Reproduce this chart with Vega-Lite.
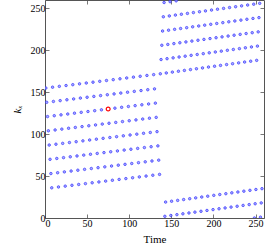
{
  "$schema": "https://vega.github.io/schema/vega-lite/v6.json",
  "width": 219,
  "height": 218,
  "autosize": {"type": "none"},
  "padding": {"left": 45, "top": 0, "right": 3, "bottom": 31},
  "background": "white",
  "config": {
    "view": {"stroke": "#555", "strokeWidth": 1},
    "axis": {
      "labelFont": "Liberation Serif", "labelFontSize": 10, "labelColor": "#000",
      "titleFont": "Liberation Serif", "titleFontSize": 11, "titleColor": "#000", "titleFontWeight": "normal",
      "grid": false, "domain": false, "tickColor": "#555", "tickSize": -4, "tickWidth": 0.8
    }
  },
  "datasets": {
    "blue": [
      {"t":1,"k":155},{"t":9,"k":156},{"t":17,"k":157},{"t":25,"k":158},{"t":33,"k":159},{"t":41,"k":160},{"t":49,"k":161},{"t":57,"k":162},{"t":65,"k":163},{"t":73,"k":164},{"t":81,"k":165},{"t":89,"k":166},{"t":97,"k":167},{"t":105,"k":168},{"t":113,"k":169},{"t":121,"k":170},{"t":129,"k":171},
      {"t":2,"k":138},{"t":10,"k":139},{"t":18,"k":140},{"t":26,"k":141},{"t":34,"k":142},{"t":42,"k":143},{"t":50,"k":144},{"t":58,"k":145},{"t":66,"k":146},{"t":74,"k":147},{"t":82,"k":148},{"t":90,"k":149},{"t":98,"k":150},{"t":106,"k":151},{"t":114,"k":152},{"t":122,"k":153},{"t":130,"k":154},
      {"t":3,"k":121},{"t":11,"k":122},{"t":19,"k":123},{"t":27,"k":124},{"t":35,"k":125},{"t":43,"k":126},{"t":51,"k":127},{"t":59,"k":128},{"t":67,"k":129},{"t":75,"k":130},{"t":83,"k":131},{"t":91,"k":132},{"t":99,"k":133},{"t":107,"k":134},{"t":115,"k":135},{"t":123,"k":136},{"t":131,"k":137},
      {"t":4,"k":104},{"t":12,"k":105},{"t":20,"k":106},{"t":28,"k":107},{"t":36,"k":108},{"t":44,"k":109},{"t":52,"k":110},{"t":60,"k":111},{"t":68,"k":112},{"t":76,"k":113},{"t":84,"k":114},{"t":92,"k":115},{"t":100,"k":116},{"t":108,"k":117},{"t":116,"k":118},{"t":124,"k":119},{"t":132,"k":120},
      {"t":5,"k":87},{"t":13,"k":88},{"t":21,"k":89},{"t":29,"k":90},{"t":37,"k":91},{"t":45,"k":92},{"t":53,"k":93},{"t":61,"k":94},{"t":69,"k":95},{"t":77,"k":96},{"t":85,"k":97},{"t":93,"k":98},{"t":101,"k":99},{"t":109,"k":100},{"t":117,"k":101},{"t":125,"k":102},{"t":133,"k":103},
      {"t":6,"k":70},{"t":14,"k":71},{"t":22,"k":72},{"t":30,"k":73},{"t":38,"k":74},{"t":46,"k":75},{"t":54,"k":76},{"t":62,"k":77},{"t":70,"k":78},{"t":78,"k":79},{"t":86,"k":80},{"t":94,"k":81},{"t":102,"k":82},{"t":110,"k":83},{"t":118,"k":84},{"t":126,"k":85},{"t":134,"k":86},
      {"t":7,"k":53},{"t":15,"k":54},{"t":23,"k":55},{"t":31,"k":56},{"t":39,"k":57},{"t":47,"k":58},{"t":55,"k":59},{"t":63,"k":60},{"t":71,"k":61},{"t":79,"k":62},{"t":87,"k":63},{"t":95,"k":64},{"t":103,"k":65},{"t":111,"k":66},{"t":119,"k":67},{"t":127,"k":68},{"t":135,"k":69},
      {"t":8,"k":36},{"t":16,"k":37},{"t":24,"k":38},{"t":32,"k":39},{"t":40,"k":40},{"t":48,"k":41},{"t":56,"k":42},{"t":64,"k":43},{"t":72,"k":44},{"t":80,"k":45},{"t":88,"k":46},{"t":96,"k":47},{"t":104,"k":48},{"t":112,"k":49},{"t":120,"k":50},{"t":128,"k":51},{"t":136,"k":52},
      {"t":136.9,"k":172},{"t":144.0,"k":173},{"t":151.2,"k":174},{"t":158.4,"k":175},{"t":165.5,"k":176},{"t":172.7,"k":177},{"t":179.8,"k":178},{"t":187.0,"k":179},{"t":194.1,"k":180},{"t":201.3,"k":181},{"t":208.4,"k":182},{"t":215.6,"k":183},{"t":222.7,"k":184},{"t":229.9,"k":185},{"t":237.0,"k":186},{"t":244.2,"k":187},{"t":251.3,"k":188},
      {"t":137.8,"k":189},{"t":144.9,"k":190},{"t":152.1,"k":191},{"t":159.2,"k":192},{"t":166.4,"k":193},{"t":173.5,"k":194},{"t":180.7,"k":195},{"t":187.9,"k":196},{"t":195.0,"k":197},{"t":202.2,"k":198},{"t":209.3,"k":199},{"t":216.5,"k":200},{"t":223.6,"k":201},{"t":230.8,"k":202},{"t":237.9,"k":203},{"t":245.1,"k":204},{"t":252.2,"k":205},
      {"t":138.7,"k":206},{"t":145.8,"k":207},{"t":153.0,"k":208},{"t":160.1,"k":209},{"t":167.3,"k":210},{"t":174.4,"k":211},{"t":181.6,"k":212},{"t":188.7,"k":213},{"t":195.9,"k":214},{"t":203.1,"k":215},{"t":210.2,"k":216},{"t":217.4,"k":217},{"t":224.5,"k":218},{"t":231.7,"k":219},{"t":238.8,"k":220},{"t":246.0,"k":221},{"t":253.1,"k":222},
      {"t":139.6,"k":223},{"t":146.7,"k":224},{"t":153.9,"k":225},{"t":161.0,"k":226},{"t":168.2,"k":227},{"t":175.3,"k":228},{"t":182.5,"k":229},{"t":189.6,"k":230},{"t":196.8,"k":231},{"t":203.9,"k":232},{"t":211.1,"k":233},{"t":218.2,"k":234},{"t":225.4,"k":235},{"t":232.6,"k":236},{"t":239.7,"k":237},{"t":246.9,"k":238},{"t":254.0,"k":239},
      {"t":140.5,"k":240},{"t":147.6,"k":241},{"t":154.8,"k":242},{"t":161.9,"k":243},{"t":169.1,"k":244},{"t":176.2,"k":245},{"t":183.4,"k":246},{"t":190.5,"k":247},{"t":197.7,"k":248},{"t":204.8,"k":249},{"t":212.0,"k":250},{"t":219.1,"k":251},{"t":226.3,"k":252},{"t":233.4,"k":253},{"t":240.6,"k":254},{"t":247.8,"k":255},{"t":254.9,"k":256},
      {"t":141.4,"k":257},{"t":148.5,"k":258},{"t":155.7,"k":259},{"t":248.6,"k":0},{"t":255.8,"k":1},
      {"t":142.3,"k":2},{"t":149.4,"k":3},{"t":156.6,"k":4},{"t":163.7,"k":5},{"t":170.9,"k":6},{"t":178.0,"k":7},{"t":185.2,"k":8},{"t":192.3,"k":9},{"t":199.5,"k":10},{"t":206.6,"k":11},{"t":213.8,"k":12},{"t":220.9,"k":13},{"t":228.1,"k":14},{"t":235.2,"k":15},{"t":242.4,"k":16},{"t":249.5,"k":17},{"t":256.7,"k":18},
      {"t":143.2,"k":19},{"t":150.3,"k":20},{"t":157.5,"k":21},{"t":164.6,"k":22},{"t":171.8,"k":23},{"t":178.9,"k":24},{"t":186.1,"k":25},{"t":193.2,"k":26},{"t":200.4,"k":27},{"t":207.5,"k":28},{"t":214.7,"k":29},{"t":221.8,"k":30},{"t":229.0,"k":31},{"t":236.1,"k":32},{"t":243.3,"k":33},{"t":250.4,"k":34},{"t":257.6,"k":35}
    ],
    "red": [{"t":75,"k":130}]
  },
  "layer": [
    {
      "data": {"name": "blue"},
      "mark": {"type": "point", "shape": "circle", "filled": false, "size": 6, "strokeWidth": 1, "color": "#3b3bff", "fill": "#a0a0ff", "fillOpacity": 1, "opacity": 0.85, "clip": true},
      "encoding": {
        "x": {"field": "t", "type": "quantitative", "scale": {"domain": [0, 260], "nice": false, "zero": false},
              "axis": {"orient": "bottom", "values": [0, 50, 100, 150, 200, 250], "title": "Time", "labelPadding": 4, "titlePadding": 5}},
        "y": {"field": "k", "type": "quantitative", "scale": {"domain": [0, 260], "nice": false, "zero": false},
              "axis": {"orient": "left", "values": [0, 50, 100, 150, 200, 250], "title": "kₓ", "titleFontStyle": "italic", "labelPadding": 4, "titlePadding": 8}}
      }
    },
    {
      "data": {"name": "red"},
      "mark": {"type": "point", "shape": "circle", "filled": false, "size": 15, "strokeWidth": 1.2, "color": "#ff0000", "fill": "white", "fillOpacity": 1},
      "encoding": {
        "x": {"field": "t", "type": "quantitative",
              "axis": {"orient": "top", "values": [0, 50, 100, 150, 200, 250], "labels": false, "title": null}},
        "y": {"field": "k", "type": "quantitative",
              "axis": {"orient": "right", "values": [0, 50, 100, 150, 200, 250], "labels": false, "title": null}}
      }
    }
  ],
  "resolve": {"axis": {"x": "independent", "y": "independent"}}
}
